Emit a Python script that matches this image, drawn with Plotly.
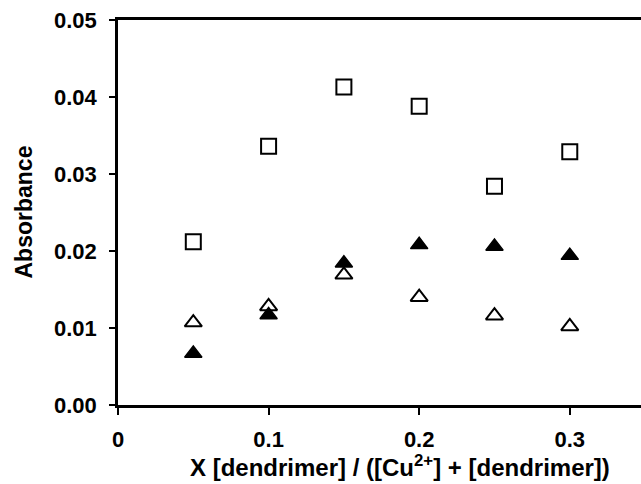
import plotly.graph_objects as go

x_vals = [0.05, 0.10, 0.15, 0.20, 0.25, 0.30, 0.35]
open_squares = [0.0212, 0.0336, 0.0413, 0.0388, 0.0284, 0.0329]
filled_triangles = [0.0067, 0.0117, 0.0184, 0.0208, 0.0206, 0.0194, 0.0183]
open_triangles = [0.0107, 0.0128, 0.0169, 0.0140, 0.0116, 0.0102, 0.0093]

x_ticks = [0, 0.1, 0.2, 0.3]
y_ticks = [0.00, 0.01, 0.02, 0.03, 0.04, 0.05]

FONT = "Liberation Sans, Arial, sans-serif"

fig = go.Figure()
fig.add_trace(go.Scatter(
    x=x_vals[:len(open_squares)], y=open_squares, mode="markers",
    marker=dict(symbol="square-open", size=15, color="black", line=dict(width=2, color="black")),
    cliponaxis=False, showlegend=False))
fig.add_trace(go.Scatter(
    x=x_vals[:len(filled_triangles)], y=filled_triangles, mode="markers",
    marker=dict(symbol="triangle-up", size=15, color="black", line=dict(width=1.5, color="black")),
    cliponaxis=False, showlegend=False))
fig.add_trace(go.Scatter(
    x=x_vals[:len(open_triangles)], y=open_triangles, mode="markers",
    marker=dict(symbol="triangle-up-open", size=15, color="black", line=dict(width=2, color="black")),
    cliponaxis=False, showlegend=False))

fig.update_layout(
    width=641, height=484,
    margin=dict(l=118, r=0, t=20, b=79),
    paper_bgcolor="white", plot_bgcolor="white",
    font=dict(family=FONT, size=22, color="black", weight="bold"),
    xaxis=dict(
        range=[0, 0.3473], tickvals=x_ticks, ticktext=["0", "0.1", "0.2", "0.3"],
        showgrid=False, zeroline=False, showline=True, linecolor="black", linewidth=2.5,
        mirror=True, ticks="outside", ticklen=7, tickwidth=2, tickcolor="black",
        ticklabelstandoff=6,
        tickfont=dict(family=FONT, size=22, color="black", weight="bold"),
    ),
    yaxis=dict(
        range=[0, 0.05], tickvals=y_ticks, tickformat=".2f",
        showgrid=False, zeroline=False, showline=True, linecolor="black", linewidth=2.5,
        ticks="outside", ticklen=6, tickwidth=2, tickcolor="black",
        ticklabelstandoff=8,
        tickfont=dict(family=FONT, size=22, color="black", weight="bold"),
    ),
    annotations=[
        dict(text="X [dendrimer] / ([Cu<sup>2+</sup>] + [dendrimer])",
             xref="paper", yref="paper", x=(400 - 118) / 523, y=-0.158,
             xanchor="center", yanchor="middle", showarrow=False,
             font=dict(family=FONT, size=24, color="black", weight="bold")),
        dict(text="Absorbance", textangle=-90,
             xref="paper", yref="paper", x=-(118 - 23) / 523, y=0.5,
             xanchor="center", yanchor="middle", showarrow=False,
             font=dict(family=FONT, size=23, color="black", weight="bold")),
    ],
)

fig.write_html("out.html")
